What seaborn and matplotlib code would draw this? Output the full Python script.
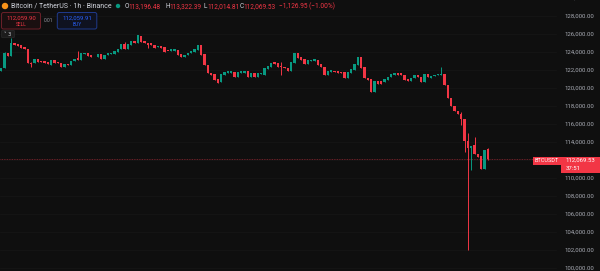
import matplotlib
matplotlib.use("Agg")
import matplotlib.pyplot as plt
import matplotlib.patches as mpatches
import matplotlib.transforms as mtrans
import seaborn as sns
import numpy as np

# ---------------- data ----------------
opens = [121926, 122185, 123852, 123555, 124963, 124889, 124778, 124518, 124370, 122741,
         122815, 123259, 123037, 123000, 122852, 122555, 123074, 122926, 122815, 122370,
         122630, 122518, 122963, 123296, 123111, 123778, 123926, 123667, 123555, 123407,
         123778, 123185, 123667, 123778, 123778, 124000, 124296, 124889, 124296, 124741,
         125259, 125037, 125778, 125222, 125037, 124963, 124815, 124518, 124704, 124518,
         124111, 124074, 124148, 124222, 123778, 123407, 123630, 123852, 124000, 124222,
         124741, 123741, 122555, 121704, 121555, 120963, 120666, 121444, 121704, 121704,
         121815, 121185, 121704, 121704, 121852, 121185, 121704, 121185, 121555, 121444,
         122148, 122296, 122852, 122741, 122444, 122370, 122185, 121926, 122815, 123852,
         123407, 123222, 122630, 122963, 123000, 123111, 122667, 122370, 121407, 121815,
         121926, 121852, 121815, 121778, 121074, 121630, 122000, 122518, 123407, 122296,
         121148, 120963, 119592, 120815, 120778, 120704, 120889, 121185, 121444, 121630,
         121630, 121481, 120963, 120815, 121148, 121407, 121185, 120704, 121518, 121111,
         121333, 121407, 121444, 121555, 120333, 118852, 118037, 117481, 117111, 116518,
         114148, 113296, 113667, 112667, 112444, 110963, 113196.48]
closes = [122185, 123852, 123592, 124963, 124815, 124704, 124481, 124333, 122741, 122700,
          123259, 122889, 122852, 122741, 122630, 123074, 122815, 122741, 122370, 122630,
          122520, 123037, 123259, 123074, 123852, 123926, 123555, 123407, 123500, 123815,
          123185, 123704, 123852, 123926, 124074, 124370, 124852, 124296, 124889, 125259,
          125037, 125852, 125111, 124963, 124815, 124741, 124407, 124704, 124444, 124000,
          124070, 124333, 124333, 123704, 123481, 123704, 123926, 124074, 124296, 124741,
          123630, 122518, 121630, 121444, 120889, 120592, 121518, 121815, 121926, 121852,
          121185, 121778, 121852, 121926, 121185, 121704, 121185, 121630, 121704, 122185,
          122444, 122741, 122630, 122370, 122296, 122185, 121926, 122926, 123852, 123296,
          123111, 122630, 123111, 123148, 123185, 122555, 122296, 121407, 121926, 122000,
          121741, 121704, 121630, 121074, 121778, 122074, 122630, 123407, 122185, 121074,
          120889, 119592, 120815, 120444, 120444, 120963, 121259, 121518, 121630, 121481,
          121407, 120889, 120815, 121148, 121407, 121185, 120704, 121518, 121185, 121370,
          121481, 121555, 121555, 120333, 118852, 118037, 117444, 117111, 116518, 114111,
          113296, 113592, 112630, 112370, 110963, 113111, 112069.53]
# visible wicks (candle index -> price)
wick_highs = {1: 124037, 3: 125518, 9: 122926, 23: 124148, 37: 125148, 84: 122926,
              132: 122370, 138: 117370, 140: 114963, 142: 114592, 146: 113322.39}
wick_lows = {9: 122370, 44: 124407, 84: 121444, 138: 115889, 139: 112926,
             140: 102000, 141: 110889, 146: 112014.81}
price_ticks = [100000, 102000, 104000, 106000, 108000, 110000, 112000, 114000,
               116000, 118000, 120000, 122000, 124000, 126000, 128000, 130000]
last_price = 112069.53
countdown = "37:51"
title = "Bitcoin / TetherUS · 1h · Binance"
ohlc_labels = ["O", "H", "L", "C"]
ohlc_values = ["113,196.48", "113,322.39", "112,014.81", "112,069.53"]
change_text = "\u22121,126.95 (\u22121.00%)"
sell_price, buy_price, spread = "112,059.90", "112,059.91", "0.01"

# ---------------- style ----------------
BG = "#0f0f0f"
GREEN = "#089981"
RED = "#f23645"
BLUE = "#2962ff"
AXTXT = "#a9acb5"

sns.set_theme(style="dark", rc={"axes.facecolor": BG, "figure.facecolor": BG,
                                "axes.edgecolor": BG, "grid.color": "#171717"})
plt.rcParams['font.family'] = ['Roboto', 'DejaVu Sans']

W, H = 600, 271
fig = plt.figure(figsize=(W / 100, H / 100), dpi=100, facecolor=BG)
ax = fig.add_axes([0, 0, 1, 1])
ax.set_facecolor(BG)

# pixel transform (x right, y down) -> figure
PX = mtrans.Affine2D().scale(1 / W, -1 / H).translate(0, 1) + fig.transFigure

# scales: candle i center at px 1.3 + 3.333*i ; price p at px 268 - (p-100000)*0.009
step = 3.333
x0 = 1.3
ax.set_xlim(-x0 / step, (W - x0) / step)
ax.set_ylim(100000 - 3 / 0.009, 100000 + 268 / 0.009)
ax.set_xticks([])
ax.set_yticks([])
for s in ax.spines.values():
    s.set_visible(False)

chart_frac = 556 / W
for p in price_ticks:
    ax.axhline(p, xmin=0, xmax=chart_frac, color="#161616", lw=0.6, zorder=0)

o = np.array(opens, dtype=float)
c = np.array(closes, dtype=float)
n = len(o)
x = np.arange(n)
up = c >= o
hi = np.array([wick_highs.get(i, max(o[i], c[i])) for i in range(n)])
lo = np.array([wick_lows.get(i, min(o[i], c[i])) for i in range(n)])
cols = np.where(up, GREEN, RED)

ax.vlines(x, lo, hi, colors=cols, linewidth=0.7, zorder=2)
body_bottom = np.minimum(o, c)
body_h = np.maximum(np.abs(c - o), 100)
ax.bar(x, body_h, bottom=body_bottom, width=0.72, color=cols, linewidth=0, zorder=3)

# last price line
ax.axhline(last_price, xmin=0, xmax=533 / W, color="#8a2631", lw=0.6, ls=(0, (1, 1)),
           zorder=1)

# price axis labels
ytr = mtrans.blended_transform_factory(fig.transFigure, ax.transData)
for p in price_ticks:
    ax.text(594 / W, p, f"{p:,.2f}", transform=ytr, ha="right", va="center",
            fontsize=4.3, color=AXTXT, zorder=5)

# price tags
fig.patches.append(mpatches.Rectangle((533, 156.5), 27.5, 8, transform=PX,
                                      facecolor=RED, edgecolor="none", zorder=6))
fig.text(546.7, 160.6, "BTCUSDT", transform=PX, ha="center", va="center",
         fontsize=4.0, color="white", zorder=7)
fig.patches.append(mpatches.Rectangle((561, 156.5), 39, 16, transform=PX,
                                      facecolor=RED, edgecolor="none", zorder=6))
fig.text(565.5, 160.6, f"{last_price:,.2f}", transform=PX, ha="left", va="center",
         fontsize=4.3, color="white", zorder=7)
fig.text(565.5, 168.0, countdown, transform=PX, ha="left", va="center",
         fontsize=4.3, color="white", zorder=7)

# header
fig.patches.append(mpatches.Circle((5, 6), 3.2, transform=PX, facecolor="#f7931a",
                                   edgecolor="none"))
fig.text(11, 6.3, title, transform=PX, ha="left", va="center", fontsize=5.0,
         color="#d1d4dc")
fig.patches.append(mpatches.Circle((118, 6), 2.2, transform=PX, facecolor=GREEN,
                                   edgecolor="none"))
lx = [125, 165.5, 204, 239.5]
for xx, lab, val in zip(lx, ohlc_labels, ohlc_values):
    fig.text(xx, 6.3, lab, transform=PX, ha="left", va="center", fontsize=4.7,
             color="#d1d4dc")
    fig.text(xx + 3.8, 6.3, val, transform=PX, ha="left", va="center", fontsize=4.7,
             color=RED)
fig.text(279, 6.3, change_text, transform=PX, ha="left", va="center", fontsize=4.7,
         color=RED)

# sell / buy boxes
fig.patches.append(mpatches.FancyBboxPatch((1.5, 12.5), 39, 16.5,
                   boxstyle="round,pad=0,rounding_size=2", transform=PX,
                   facecolor="#1a0f10", edgecolor="#6b2029", lw=0.7))
fig.text(21, 17.8, sell_price, transform=PX, ha="center", va="center",
         fontsize=4.3, color=RED)
fig.text(21, 24.6, "SELL", transform=PX, ha="center", va="center",
         fontsize=3.5, color=RED)
fig.text(48.5, 20.3, spread, transform=PX, ha="center", va="center",
         fontsize=3.5, color="#9598a1")
fig.patches.append(mpatches.FancyBboxPatch((57.3, 12.5), 39.5, 16.5,
                   boxstyle="round,pad=0,rounding_size=2", transform=PX,
                   facecolor="#0f1220", edgecolor="#1f3a8c", lw=0.7))
fig.text(77, 17.8, buy_price, transform=PX, ha="center", va="center",
         fontsize=4.3, color=BLUE)
fig.text(77, 24.6, "BUY", transform=PX, ha="center", va="center",
         fontsize=3.5, color=BLUE)

# collapse indicator box
fig.patches.append(mpatches.FancyBboxPatch((1.5, 30.3), 13, 7.4,
                   boxstyle="round,pad=0,rounding_size=1.2", transform=PX,
                   facecolor="#1c1c1c", edgecolor="#2a2a2a", lw=0.5))
fig.text(8, 34.1, "\u02c5 3", transform=PX, ha="center", va="center",
         fontsize=3.6, color="#d1d4dc", family=["DejaVu Sans"])

fig.savefig("out.png", dpi=100, facecolor=BG)
